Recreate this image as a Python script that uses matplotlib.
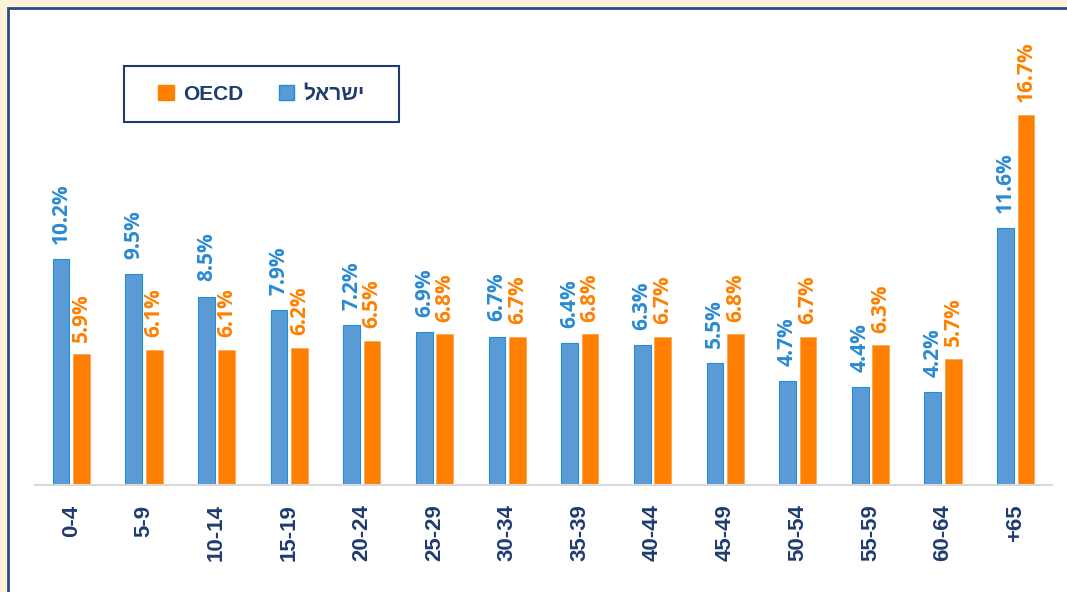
import matplotlib
matplotlib.use("Agg")
import matplotlib.pyplot as plt
from matplotlib.patches import Rectangle, Patch
import numpy as np

# age groups (as shown, RTL layout)
ages = ["0-4", "5-9", "10-14", "15-19", "20-24", "25-29", "30-34",
        "35-39", "40-44", "45-49", "50-54", "55-59", "60-64", "+65"]
israel = [10.2, 9.5, 8.5, 7.9, 7.2, 6.9, 6.7, 6.4, 6.3, 5.5, 4.7, 4.4, 4.2, 11.6]
oecd = [5.9, 6.1, 6.1, 6.2, 6.5, 6.8, 6.7, 6.8, 6.7, 6.8, 6.7, 6.3, 5.7, 16.7]
name_il = "ישראל"
name_oecd = "OECD"

navy = "#1F3B70"
blue = "#5B9BD5"
blue_txt = "#2A8AD2"
orange = "#FF8000"

W, H = 1067, 592
fig = plt.figure(figsize=(W / 100, H / 100), dpi=100, facecolor="#FDF1D9")

# white panel with navy frame
fig.patches.append(Rectangle((8 / W, -0.1), 1.2, 1.1 - 8 / H,
                             transform=fig.transFigure, facecolor="white",
                             edgecolor="#2E4A86", linewidth=2, zorder=0))

ax = fig.add_axes([35 / W, 1 - 485 / H, (1052 - 35) / W, (485 - 10) / H])
ax.set_facecolor("none")
ax.set_zorder(1)

x = np.arange(len(ages))
w = 0.23
off = 0.141
ax.bar(x - off, israel, w, color=blue, edgecolor="#1E8FD8", linewidth=0.8)
ax.bar(x + off, oecd, w, color=orange, edgecolor="#FFA050", linewidth=0.5)

for i in range(len(ages)):
    ax.annotate("%.1f%%" % israel[i], (x[i] - off, israel[i]), xytext=(0, 11),
                textcoords="offset points", rotation=90, ha="center", va="bottom",
                color=blue_txt, fontsize=15, fontweight="bold", family="Open Sans")
    ax.annotate("%.1f%%" % oecd[i], (x[i] + off, oecd[i]), xytext=(0, 9),
                textcoords="offset points", rotation=90, ha="center", va="bottom",
                color=orange, fontsize=15, fontweight="bold", family="Open Sans")

ax.set_xlim(-0.5, len(ages) - 0.5)
ax.set_ylim(0, 475 / 22.16)
ax.set_xticks(x)
ax.set_xticklabels(ages, rotation=90, fontsize=16, fontweight="bold",
                   color=navy, family=["Liberation Sans", "DejaVu Sans"])
ax.tick_params(axis="x", length=0, pad=14)
ax.set_yticks([])
for s in ["left", "right", "top"]:
    ax.spines[s].set_visible(False)
ax.spines["bottom"].set_color("#D9D9D9")
ax.spines["bottom"].set_linewidth(1.5)

# legend box
fig.patches.append(Rectangle((124 / W, 1 - 122 / H), 275 / W, 56 / H,
                             transform=fig.transFigure, facecolor="white",
                             edgecolor="#1F3B70", linewidth=1.5, zorder=2))
handles = [Patch(facecolor=orange, edgecolor=orange),
           Patch(facecolor=blue, edgecolor="#1E8FD8")]
# matplotlib has no bidi support, so Hebrew is given in visual order
leg = fig.legend(handles, [name_oecd, name_il[::-1]], loc="center",
                 bbox_to_anchor=(261.5 / W, 1 - 94 / H), ncol=2, frameon=False,
                 handlelength=0.75, handleheight=0.75, handletextpad=0.45,
                 columnspacing=1.7,
                 prop={"family": ["Liberation Sans", "DejaVu Sans"],
                       "weight": "bold", "size": 15})
leg.set_zorder(3)
for t in leg.get_texts():
    t.set_color(navy)

fig.savefig("out.png", dpi=100, facecolor=fig.get_facecolor())
